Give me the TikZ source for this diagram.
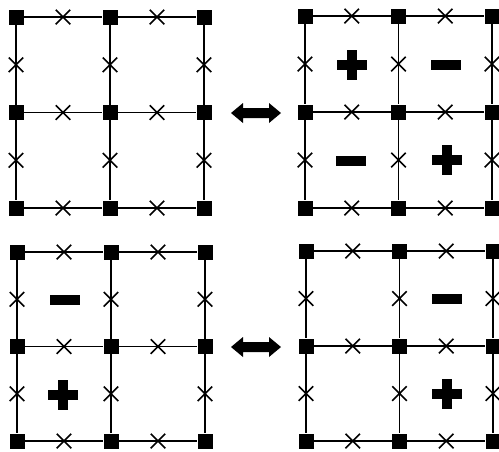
\documentclass[tikz,border=0pt]{standalone}
\usetikzlibrary{shapes.misc}
\tikzset{
  gl/.style={line width=1.5pt},
  vtx/.style={rectangle,fill=black,minimum size=15pt,inner sep=0pt},
  crs/.style={cross out,draw=black,line width=1.5pt,minimum size=13pt,inner sep=0pt},
  minusbar/.style={rectangle,fill=black,minimum width=30pt,minimum height=10pt,inner sep=0pt},
  dblarrow/.style={fill=black}
}
\newcommand\mygrid[5]{%
  \foreach \i in {0,1,2}{\foreach \j in {0,1,2}{
    \node[vtx] (#1-\i-\j) at ({#2+\i*#4},{#3+\j*#5}) {};}}
  \foreach \i in {0,1,2}{\foreach \j/\k in {0/1,1/2}{
    \draw[gl] (#1-\i-\j) -- (#1-\i-\k) node[crs,midway] (#1-v\i\j) {};
    \draw[gl] (#1-\j-\i) -- (#1-\k-\i) node[crs,midway] (#1-h\j\i) {};}}
}
\newcommand\plussign[3]{%
  \node[minusbar] (#1a) at (#2,#3) {};
  \node[minusbar,rotate=90] (#1b) at (#2,#3) {};
}
\newcommand\dblarr[2]{%
  \fill[dblarrow] (231,#2) -- (243,#2-10) -- (243,#2-5) -- (269,#2-5) -- (269,#2-10) -- (281,#2)
    -- (269,#2+10) -- (269,#2+5) -- (243,#2+5) -- (243,#2+10) -- cycle;
}
\begin{document}
\begin{tikzpicture}[x=1pt,y=-1pt]
\useasboundingbox (0,0) rectangle (499,451);
\mygrid{A}{16}{17}{94}{95.5}
\mygrid{B}{305}{16}{93.5}{96}
\mygrid{C}{17}{252}{94}{94.5}
\mygrid{D}{306}{251}{93.5}{95}
% signs
\plussign{pB1}{352}{65}
\node[minusbar] (mB1) at (446,65) {};
\node[minusbar] (mB2) at (351,161) {};
\plussign{pB2}{447}{160}
\node[minusbar] (mC1) at (65,300) {};
\plussign{pC1}{63}{395}
\node[minusbar] (mD1) at (447,299) {};
\plussign{pD1}{447}{394}
% arrows
\dblarr{t}{113}
\dblarr{b}{347}
\end{tikzpicture}
\end{document}
